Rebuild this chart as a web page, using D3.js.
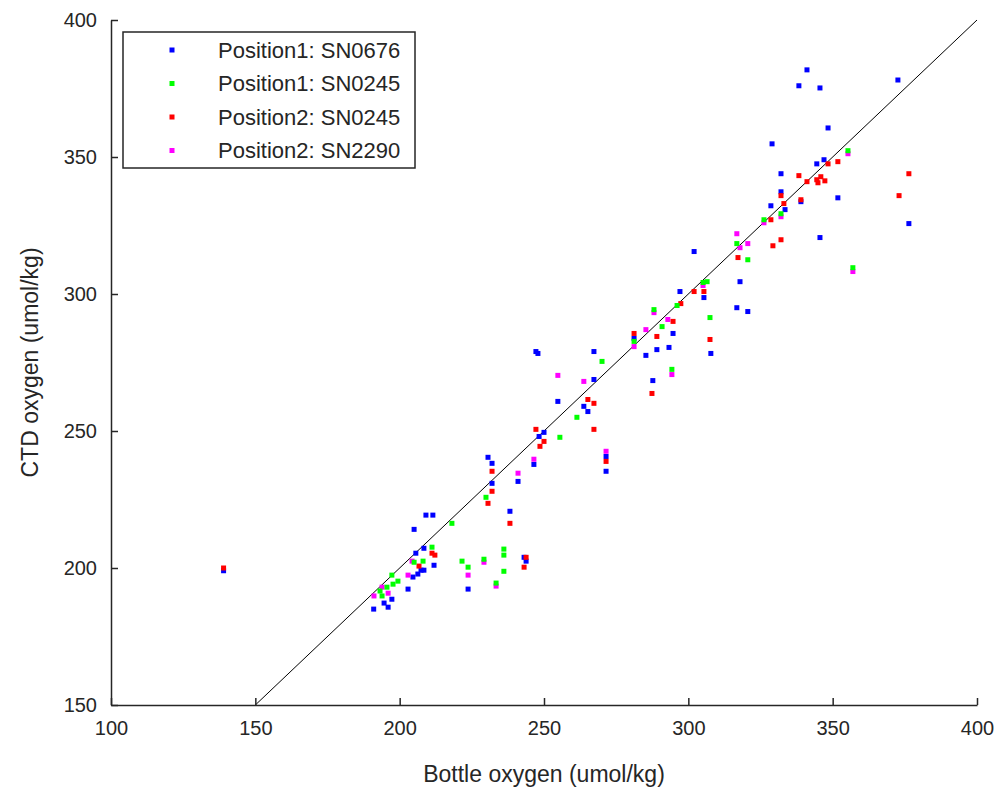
<!DOCTYPE html>
<html>
<head>
<meta charset="utf-8">
<script src="https://cdn.jsdelivr.net/npm/d3@7"></script>
<style>
  body { margin: 0; background: #fff; }
  text { font-family: "Liberation Sans", Arial, Helvetica, sans-serif; fill: #262626; }
</style>
</head>
<body>
<div class="chart"></div>
<script>
// data: [bottle, ctd] in umol/kg
const sn0676p1 = [
  [139,199],[191,185],[194.6,187.2],[196,185.7],[197.3,188.6],[202.9,192.3],[204.6,196.7],
  [206.3,197.8],[207.4,199.2],[208.4,199.2],[211.9,201],[205.6,205.4],[208.4,207.2],[205,214.1],
  [209.1,219.3],[211.5,219.3],[223.7,192.3],[232,230.9],[230.6,240.4],[232,238.2],[238.2,220.7],
  [243.1,203.9],[243.8,202.5],[246.5,237.8],[241,231.6],[250,249.5],[248.3,248],[247.2,279],
  [247.9,278.3],[254.8,260.8],[263.8,259],[265.2,257.1],[267.3,268.8],[267.3,279],[271.5,240.7],
  [271.5,235.3],[287.7,268.4],[285.3,277.6],[289.1,279.7],[293.3,280.5],[281.2,283.8],[294.7,285.6],
  [297.1,300.9],[305.4,298.7],[302,315.5],[307.8,278.3],[317.9,304.5],[316.8,295],[320.6,293.6],
  [328.6,332.2],[333.5,330.8],[332.1,337.3],[339,333.7],[332.1,343.9],[329,354.8],[344.5,347.5],
  [347,349],[348.4,360.6],[341.1,381.8],[338.3,376],[345.6,375.2],[351.8,335.1],[345.6,320.6],
  [372.6,378.1],[376.4,325.7]
];
const sn0245p1 = [
  [197.3,197.4],[199.4,195.2],[197.7,194.1],[195.6,193],[193.2,191.6],[193.9,189.8],[205,202.1],
  [208.1,202.5],[211.2,207.6],[218.1,216.3],[221.6,202.5],[223.7,200.3],[229.2,203.2],[236.1,206.9],
  [236.1,204.7],[236.1,198.8],[233.4,194.5],[229.9,225.8],[255.5,247.7],[261.4,255],[270.1,275.4],
  [281.2,282.7],[288.1,294.3],[290.9,288.1],[294.3,272.5],[296.1,295.8],[305.1,304.2],[306.5,304.5],
  [307.5,291.4],[316.8,318.4],[320.6,312.5],[326.2,327.1],[332.1,329.3],[355.3,352.3],[357,309.6]
];
const sn0245p2 = [
  [139,200],[206.7,200.7],[211.2,205.4],[212.2,204.7],[232,235.3],[232,228],[230.6,223.6],
  [238.2,216.3],[243.8,203.9],[243.1,200.3],[247.2,250.6],[250,246.2],[248.6,244.4],[265.2,261.5],
  [267.3,260.1],[267.3,250.6],[271.5,238.9],[287.4,263.7],[281.2,285.6],[289.1,284.5],[294.7,290],
  [297.4,296.5],[302,300.9],[305.4,300.9],[307.5,283.4],[317.2,313.3],[329.3,317.6],[332.1,319.8],
  [328.6,327.1],[332.1,335.9],[333.1,333],[339,334.4],[338.3,343.2],[341.1,341],[344.5,341.7],
  [345.9,342.8],[347.3,341.3],[344.9,340.6],[348.4,347.5],[351.8,348.3],[376.4,343.9],[373,335.9]
];
const sn2290p2 = [
  [191.1,189.8],[193.9,193],[196,190.8],[204.3,202.5],[202.9,197.4],[223.7,197.4],[229.2,202.1],
  [233.4,193.4],[241,234.6],[246.5,239.7],[254.8,270.3],[263.8,268.1],[271.5,242.6],[281.2,280.8],
  [285.3,287],[288.1,293.2],[292.9,290.7],[294.3,270.6],[305.1,303.1],[316.8,322],[317.9,316.9],
  [320.6,318.4],[326.2,326],[332.1,328.2],[355.3,351.2],[357,308.2]
];

const legendNames = ['Position1: SN0676', 'Position1: SN0245', 'Position2: SN0245', 'Position2: SN2290'];
const colors = ['#0000ff', '#00ff00', '#ff0000', '#ff00ff'];
const series = [sn0676p1, sn0245p1, sn0245p2, sn2290p2];
const drawOrder = [0, 3, 2, 1];

const xTicks = [100, 150, 200, 250, 300, 350, 400];
const yTicks = [150, 200, 250, 300, 350, 400];
const oneToOne = [[150, 150], [400, 400]];

const width = 1001, height = 793;
const margin = {left: 111, right: 24, top: 20, bottom: 88};

const svg = d3.select('.chart').append('svg')
              .attr('width', width)
              .attr('height', height);

const x = d3.scaleLinear().domain([100, 400]).range([margin.left, width - margin.right]);
const y = d3.scaleLinear().domain([150, 400]).range([height - margin.bottom, margin.top]);

// 1:1 line
svg.append('path')
   .attr('d', d3.line().x(d => x(d[0])).y(d => y(d[1]))(oneToOne))
   .attr('stroke', '#000')
   .attr('stroke-width', 1)
   .attr('fill', 'none');

// points
const ms = 5;
drawOrder.forEach(i => {
  svg.append('g').selectAll('rect')
     .data(series[i])
     .join('rect')
     .attr('x', d => x(d[0]) - ms / 2)
     .attr('y', d => y(d[1]) - ms / 2)
     .attr('width', ms)
     .attr('height', ms)
     .attr('fill', colors[i]);
});

// axes, ticks inside
const xAxis = svg.append('g')
   .attr('transform', `translate(0,${y(150)})`)
   .call(d3.axisBottom(x).tickValues(xTicks).tickSizeInner(-7).tickSizeOuter(0).tickPadding(16));
const yAxis = svg.append('g')
   .attr('transform', `translate(${x(100)},0)`)
   .call(d3.axisLeft(y).tickValues(yTicks).tickSizeInner(-7).tickSizeOuter(0).tickPadding(14));

[xAxis, yAxis].forEach(a => {
  a.select('.domain').attr('stroke', '#262626').attr('stroke-width', 1.5);
  a.selectAll('.tick line').attr('stroke', '#262626').attr('stroke-width', 1.5);
  a.selectAll('.tick text').attr('font-size', 20).attr('fill', '#262626');
});

// axis labels
svg.append('text')
   .attr('x', (x(100) + x(400)) / 2)
   .attr('y', 782)
   .attr('text-anchor', 'middle')
   .attr('font-size', 23)
   .text('Bottle oxygen (umol/kg)');

svg.append('text')
   .attr('transform', `translate(38,${(y(150) + y(400)) / 2}) rotate(-90)`)
   .attr('text-anchor', 'middle')
   .attr('font-size', 23)
   .text('CTD oxygen (umol/kg)');

// legend
const legend = svg.append('g').attr('transform', 'translate(123,32)');
legend.append('rect')
   .attr('width', 292)
   .attr('height', 136)
   .attr('fill', '#fff')
   .attr('stroke', '#262626')
   .attr('stroke-width', 1.5);

legendNames.forEach((name, i) => {
  const row = legend.append('g').attr('transform', `translate(0,${18 + i * 33.5})`);
  row.append('rect')
     .attr('x', 49 - ms / 2)
     .attr('y', -ms / 2)
     .attr('width', ms)
     .attr('height', ms)
     .attr('fill', colors[i]);
  row.append('text')
     .attr('x', 95)
     .attr('y', 0)
     .attr('dy', '0.36em')
     .attr('font-size', 22)
     .text(name);
});
</script>
</body>
</html>
